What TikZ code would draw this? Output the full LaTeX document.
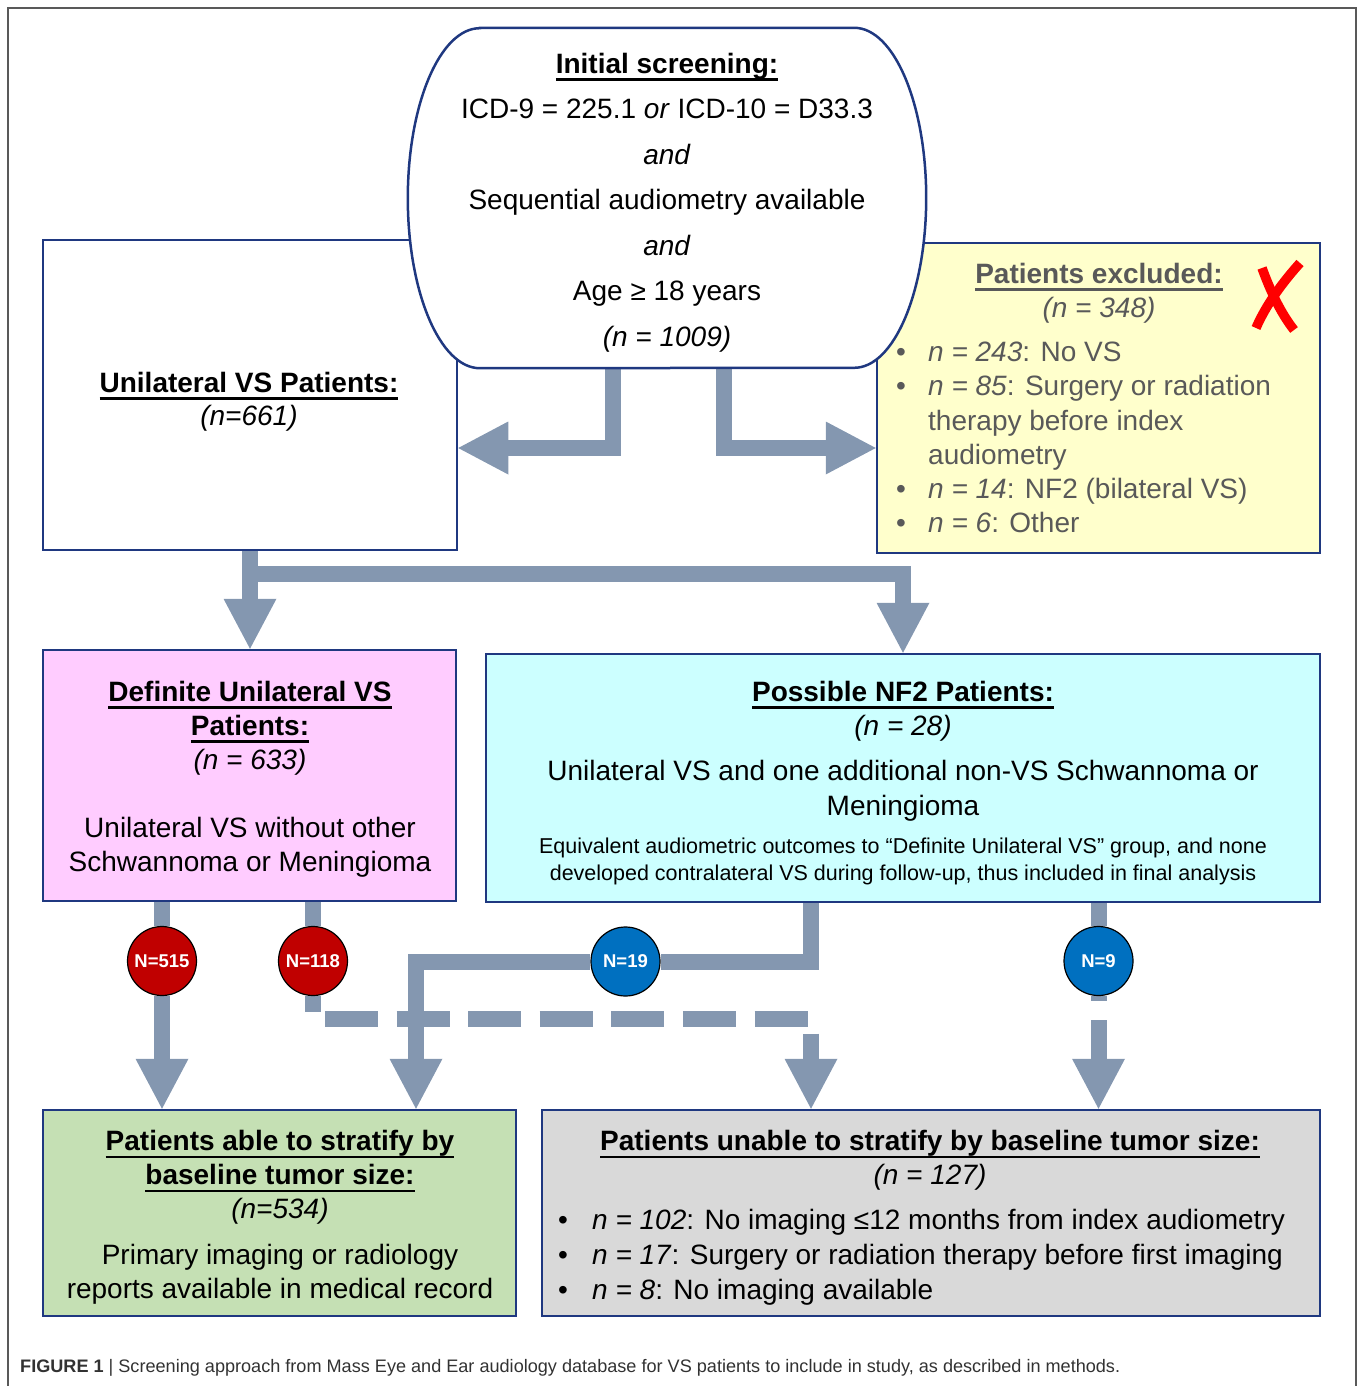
\documentclass[tikz,border=0pt]{standalone}
\usepackage{fontspec}
\setmainfont{Liberation Sans}
\usetikzlibrary{arrows.meta,backgrounds}
\definecolor{navy}{RGB}{31,56,128}
\definecolor{flowc}{RGB}{132,151,176}
\definecolor{pinkc}{RGB}{255,204,255}
\definecolor{cyanc}{RGB}{204,255,255}
\definecolor{yelc}{RGB}{255,255,204}
\definecolor{greenc}{RGB}{197,224,180}
\definecolor{grayc}{RGB}{217,217,217}
\definecolor{exclc}{RGB}{89,89,89}
\definecolor{redc}{RGB}{192,0,0}
\definecolor{bluec}{RGB}{0,112,192}
\definecolor{capc}{RGB}{50,50,50}
\newcommand{\hd}[1]{\textbf{\setbox0\hbox{#1}\rlap{\rule[-7.5pt]{\wd0}{2.5pt}}\box0}}
\newcommand{\bl}[1]{\makebox[#1][l]{\textbullet}}
\newcommand{\fmain}{\fontsize{28}{34}\selectfont}

\begin{document}
\begin{tikzpicture}[x=1pt,y=1pt,
    every node/.append style={inner sep=0pt},
    box/.style={draw=navy, line width=2.5pt},
    txt/.style={align=center, anchor=north, font=\fmain},
    cnt/.style={circle, draw=black, line width=1.2pt, minimum size=69pt, text=white, font=\fontsize{18.5}{18.5}\selectfont\bfseries},
    pipe/.style={draw=flowc, line width=16pt},
    flow/.style={pipe, -{Triangle[length=50pt,width=53pt,line width=0pt]}}]
            \useasboundingbox (0,0) rectangle (1358,-1386);
            \draw [gray!70!black, line width=1.5pt] (8,-1386) -- (8,-8) -- (1356,-8) -- (1356,-1386);
            \node [box, fill=white, minimum width=414, minimum height=310] (unil) at (250,-395) {};
            \node [box, fill=yelc, minimum width=443, minimum height=310] (excl) at (1098.5,-398) {};
            \node [minimum width=518, minimum height=340] (init) at (667,-198) {};
            \draw [box, fill=white] ([xshift=72pt]init.north west) -- ([xshift=-72pt]init.north east)
                arc [start angle=90, end angle=0, x radius=72, y radius=170]
                arc [start angle=0, end angle=-90, x radius=72, y radius=170]
                -- ([xshift=72pt]init.south west)
                arc [start angle=270, end angle=180, x radius=72, y radius=170]
                arc [start angle=180, end angle=90, x radius=72, y radius=170] -- cycle;
            \node [txt, font=\fontsize{28}{45.5}\selectfont] (initt) at (667,-53) {\hd{Initial screening:}\\ICD-9 = 225.1 \textit{or} ICD-10 = D33.3\\\textit{and}\\Sequential audiometry available\\\textit{and}\\Age ≥ 18 years\\\textit{(n = 1009)}};
            \node [txt, font=\fontsize{28}{33}\selectfont] (unilt) at (249,-372) {\hd{Unilateral VS Patients:}\\\textit{(n=661)}};
            \node [txt, text=exclc] (exclt) at (1099,-263) {\hd{Patients excluded:}\\\textit{(n = 348)}};
            \node [anchor=north west, align=left, font=\fontsize{28}{34.3}\selectfont, text=exclc] (excll) at (896,-341.7) {\bl{32pt}\textit{n = 243}: No VS\\\bl{32pt}\textit{n = 85}: Surgery or radiation\\\hspace*{32pt}therapy before index\\\hspace*{32pt}audiometry\\\bl{32pt}\textit{n = 14}: NF2 (bilateral VS)\\\bl{32pt}\textit{n = 6}: Other};
            \draw [red, line width=9.5pt] (1300,-263) .. controls (1282,-283) and (1266,-305) .. (1256,-328);
            \draw [red, line width=9.5pt] (1262,-268) .. controls (1270,-290) and (1280,-312) .. (1294,-330);
            \node [box, fill=pinkc, minimum width=413, minimum height=251] (def) at (249.5,-775.5) {};
            \node [txt] (deft) at (250,-681) {\hd{Definite Unilateral VS}\\\hd{Patients:}\\\textit{(n = 633)}\\[34pt]Unilateral VS without other\\Schwannoma or Meningioma};
            \node [box, fill=cyanc, minimum width=834, minimum height=248] (nf2) at (903,-778) {};
            \node [txt] (nf2t) at (903,-681) {\hd{Possible NF2 Patients:}\\\textit{(n = 28)}};
            \node [txt, font=\fontsize{28}{35}\selectfont] (nf2d) at (903,-760) {Unilateral VS and one additional non-VS Schwannoma or\\Meningioma};
            \node [txt, font=\fontsize{21.5}{27}\selectfont] (nf2n) at (903,-837.5) {Equivalent audiometric outcomes to “Definite Unilateral VS” group, and none\\developed contralateral VS during follow-up, thus included in final analysis};
            \node [box, fill=greenc, minimum width=473, minimum height=206] (able) at (279.5,-1213) {};
            \node [txt] (ablet) at (280,-1130) {\hd{Patients able to stratify by}\\\hd{baseline tumor size:}\\\textit{(n=534)}};
            \node [txt] (abled) at (280,-1244) {Primary imaging or radiology\\reports available in medical record};
            \node [box, fill=grayc, minimum width=778, minimum height=206] (unab) at (931,-1213) {};
            \node [txt] (unabt) at (930,-1130) {\hd{Patients unable to stratify by baseline tumor size:}\\\textit{(n = 127)}};
            \node [anchor=north west, align=left, font=\fontsize{28}{35}\selectfont] (unabl) at (558,-1209) {\bl{34pt}\textit{n = 102}: No imaging ≤12 months from index audiometry\\\bl{34pt}\textit{n = 17}: Surgery or radiation therapy before first imaging\\\bl{34pt}\textit{n = 8}: No imaging available};
            \node [cnt, fill=redc] (n515) at (162,-961) {N=515};
            \node [cnt, fill=redc] (n118) at (313,-961) {N=118};
            \node [cnt, fill=bluec] (n19) at (625.5,-961.5) {N=19};
            \node [cnt, fill=bluec] (n9) at (1098.5,-961) {N=9};
            \begin{scope}[on background layer]
            \coordinate (jl) at (613,-448);
            \coordinate (jr) at (723.5,-448);
            \coordinate (js) at (250,-573.5);
            \coordinate (ja) at (811,-961.5);
            \coordinate (jb) at (416,-961.5);
            \coordinate (jd) at (811,-1018.5);
            \draw [flow] (init.south -| jl) |- (unil.east |- jl);
            \draw [flow] (init.south -| jr) |- (excl.west |- jr);
            \draw [flow] (unil.south) -- (def.north -| unil.south);
            \draw [flow] (js) -| (nf2.north);
            \draw [pipe] (def.south -| n515) -- (n515);
            \draw [flow] (n515) -- (able.north -| n515);
            \draw [pipe] (def.south -| n118) -- (n118);
            \draw [flow, dash pattern=on 53pt off 18.6pt, dash phase=37.3pt] (n118) |- (jd) -- (unab.north -| jd);
            \draw [pipe] (nf2.south -| ja) |- (n19);
            \draw [flow] (n19) -| (able.north -| jb);
            \draw [pipe] (nf2.south -| n9) -- (n9);
            \draw [flow, dash pattern=on 5pt off 19pt on 300pt off 1pt] (n9) -- (unab.north -| n9);
            \end{scope}
            \node [anchor=base west, font=\fontsize{18.1}{20}\selectfont, text=capc] (cap) at (20,-1372.5) {\textbf{FIGURE 1} | Screening approach from Mass Eye and Ear audiology database for VS patients to include in study, as described in methods.};
\end{tikzpicture}
\end{document}
